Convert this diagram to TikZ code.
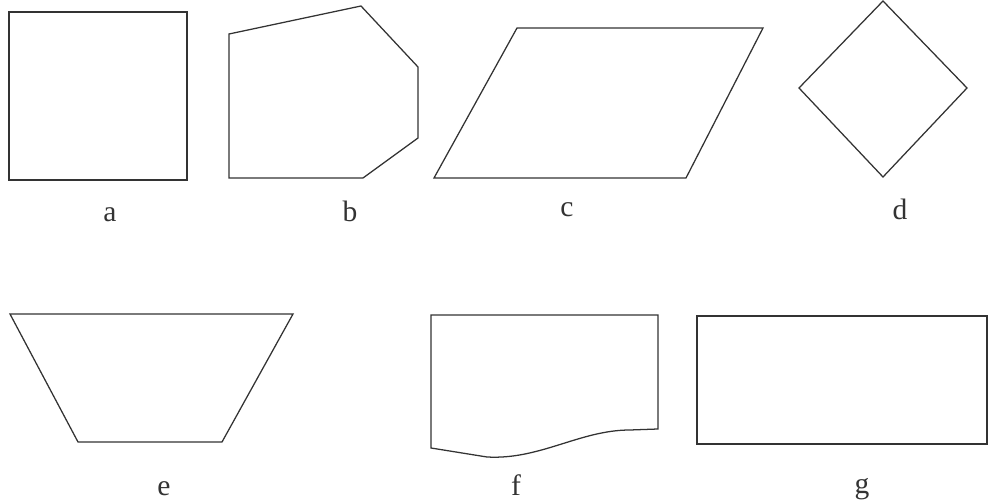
\documentclass[tikz,border=0pt]{standalone}
\usepackage{fontspec}
\setmainfont{Liberation Serif}
\begin{document}
\begin{tikzpicture}[x=0.025cm, y=-0.025cm]
    \tikzset{
        outline/.style={draw=black!80, line width=0.9pt, line join=miter},
        caption/.style={font=\fontsize{21}{25}\selectfont, text=black!80, inner sep=0pt, anchor=base}
    }
    \useasboundingbox (0, 0) rectangle (989, 504);

    % draw square
    \draw[outline] (9, 12) rectangle (187, 180);

    % draw cut polygon
    \draw[outline] (229, 34) -- (361, 6) -- (418, 67) -- (418, 138) -- (363, 178) -- (229, 178) -- cycle;

    % draw parallelogram
    \draw[outline] (517, 28) -- (763, 28) -- (686, 178) -- (434, 178) -- cycle;

    % draw diamond
    \draw[outline] (883, 1) -- (967, 88) -- (883, 177) -- (799, 88) -- cycle;

    % draw trapezoid
    \draw[outline] (10, 314) -- (293, 314) -- (222, 442) -- (78, 442) -- cycle;

    % draw document shape
    \draw[outline] (431, 448) -- (487, 457) .. controls (540, 460) and (580, 430) .. (630, 430) -- (658, 429) -- (658, 315) -- (431, 315) -- cycle;

    % draw rectangle
    \draw[outline] (697, 316) rectangle (987, 444);

    % draw labels
    \foreach \name/\x/\y in {a/110/222, b/350/222, c/567/217, d/900/220, e/164/496, f/516/496, g/862/494} {
        \node[caption] (lbl\name) at (\x, \y) {\name};
    }
\end{tikzpicture}
\end{document}
